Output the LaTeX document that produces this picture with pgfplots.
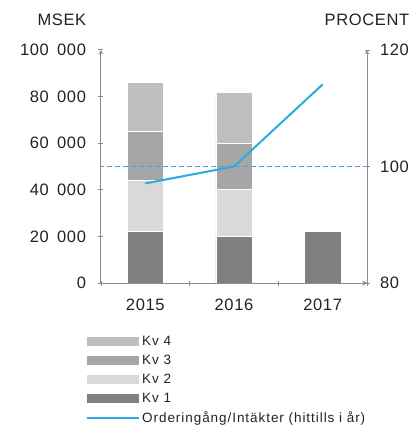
\documentclass[border=0pt]{standalone}
\usepackage{pgfplots}
\pgfplotsset{compat=1.18}
\usepackage{fontspec}
\setmainfont{Liberation Sans}[LetterSpace=4]
\newfontfamily\legfont{Liberation Sans}[LetterSpace=7]
\definecolor{kvone}{HTML}{808080}
\definecolor{kvtwo}{HTML}{D9D9D9}
\definecolor{kvthree}{HTML}{A6A6A6}
\definecolor{kvfour}{HTML}{BFBFBF}
\definecolor{axgray}{HTML}{8C8C8C}
\definecolor{lineblue}{HTML}{29ABE2}
\definecolor{dashblue}{HTML}{5B9BD5}
\definecolor{txt}{HTML}{222222}
\pgfplotsset{
  swatch/.style={legend image code/.code={\fill[##1] (0pt,-4.5pt) rectangle (52pt,4.5pt);}},
  lineleg/.style={legend image code/.code={\draw[##1] (0pt,0pt) -- (52pt,0pt);}},
  base/.style={scale only axis, width=266pt, height=233pt, xmin=-0.5, xmax=2.5,
    tick label style={font=\fontsize{16.5}{19}\selectfont, text=txt},
    axis line style={axgray, line width=1pt, -},
    tick style={axgray, line width=1pt},
    tick align=outside, major tick length=5pt,
    scaled y ticks=false,
  }
}
\begin{document}
\begin{tikzpicture}
\begin{axis}[base, ybar stacked, bar width=0.41, ymin=0, ymax=100000,
  axis x line=bottom, axis y line=left,
  xtick={0,1,2}, xticklabels={2015,2016,2017},
  major x tick style={draw=none},
  xticklabel style={yshift=-10pt},
  ytick={0,20000,40000,60000,80000,100000},
  yticklabels={0,20\enspace000,40\enspace000,60\enspace000,80\enspace000,100\enspace000},
  yticklabel style={xshift=-9pt},
  clip=false]
\addplot[fill=kvone, draw=white, line width=0.6pt] coordinates {(0,22000) (1,19900) (2,22000)};
\addplot[fill=kvtwo, draw=white, line width=0.6pt] coordinates {(0,22200) (1,20300)};
\addplot[fill=kvthree, draw=white, line width=0.6pt] coordinates {(0,20800) (1,19800)};
\addplot[fill=kvfour, draw=white, line width=0.6pt] coordinates {(0,21000) (1,21700)};
\node[font=\fontsize{16.5}{19}\selectfont, text=txt] at (axis description cs:-0.147,1.13) {MSEK};
\node[font=\fontsize{16.5}{19}\selectfont, text=txt] at (axis description cs:1.0,1.13) {PROCENT};
\end{axis}
\begin{axis}[base, ymin=80, ymax=120, axis y line=right, axis x line=bottom,
  xtick={-0.5,0.5,1.5,2.5}, xticklabels={},
  ytick={80,100,120}, yticklabels={80,100,120},
  yticklabel style={xshift=7pt},
  legend style={draw=none, fill=none, at={(axis description cs:-0.0564,-0.22)},
    anchor=north west, font=\legfont\fontsize{13.5}{16}\selectfont, text=txt,
    row sep=4pt, inner sep=0pt},
  legend cell align=left]
\addlegendimage{swatch, fill=kvfour, draw=none}
\addlegendentry{Kv 4}
\addlegendimage{swatch, fill=kvthree, draw=none}
\addlegendentry{Kv 3}
\addlegendimage{swatch, fill=kvtwo, draw=none}
\addlegendentry{Kv 2}
\addlegendimage{swatch, fill=kvone, draw=none}
\addlegendentry{Kv 1}
\addplot[dashblue, line width=1.2pt, dash pattern=on 5pt off 3pt, forget plot] coordinates {(-0.52,100) (2.5,100)};
\addplot[lineblue, line width=2pt, lineleg] coordinates {(0,97.1) (1,100) (2,114.1)};
\addlegendentry{Orderingång/Intäkter (hittills i år)}
\end{axis}
\pgfresetboundingbox
\path[use as bounding box] (-101pt,-142pt) rectangle (317pt,283pt);
\end{tikzpicture}
\end{document}
